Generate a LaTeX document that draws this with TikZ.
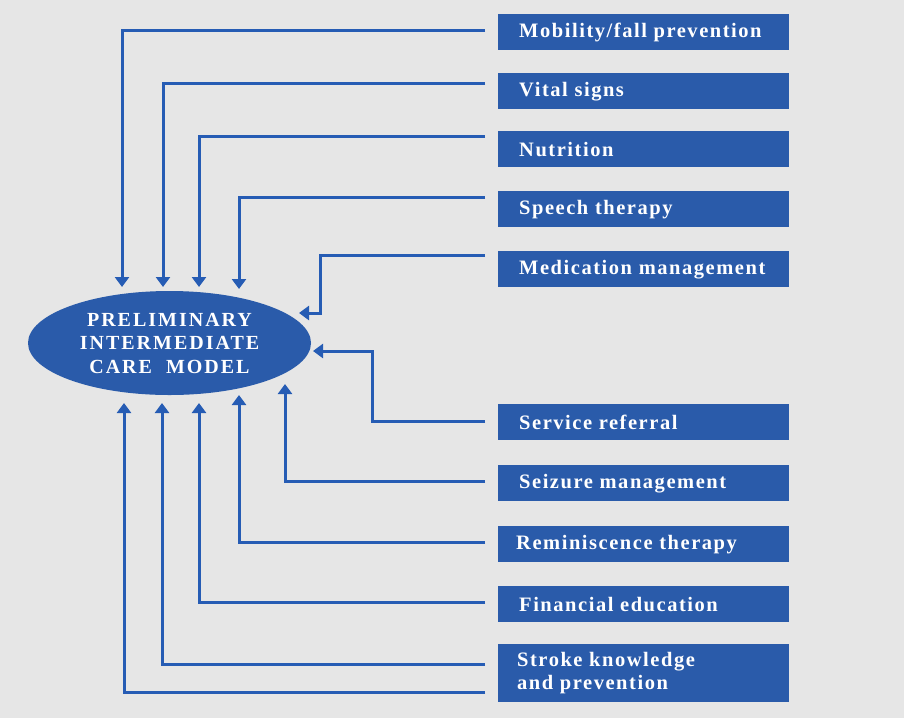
\documentclass[tikz,border=0pt]{standalone}
\usepackage{fontspec}
\setmainfont{Liberation Serif}
\newfontfamily\boxfont[LetterSpace=7.5]{Liberation Serif}
\newfontfamily\hubfont[LetterSpace=10]{Liberation Serif}
\usetikzlibrary{arrows.meta,calc,shapes.geometric}
\definecolor{bg}{RGB}{230,230,230}
\definecolor{bluebox}{RGB}{42,91,170}
\definecolor{lineblue}{RGB}{38,92,180}
\begin{document}
\begin{tikzpicture}[x=1pt,y=-1pt,
  box/.style={fill=bluebox, draw=none, minimum width=291pt, minimum height=36pt, anchor=north west, inner sep=0pt},
  lab/.style={anchor=west, text=white, inner sep=0pt, font=\boxfont\bfseries\fontsize{20.5}{23}\selectfont, align=left},
  conn/.style={draw=lineblue, line width=3pt, -{Triangle[width=14pt,length=10pt]}},
  hub/.style={ellipse, fill=bluebox, minimum width=283pt, minimum height=104pt, inner sep=0pt, text=white, align=center, font=\hubfont\bfseries\fontsize{20}{23.5}\selectfont}
]
\fill[bg] (0,0) rectangle (904,718);
\useasboundingbox (0,0) rectangle (904,718);

\node[hub] (hub) at (169.5,343) {PRELIMINARY\\INTERMEDIATE\\CARE\ \ MODEL};

% boxes
\node[box] (mob) at (498,14) {};
\node[box] (vit) at (498,73) {};
\node[box] (nut) at (498,131) {};
\node[box] (spe) at (498,191) {};
\node[box] (med) at (498,251) {};
\node[box] (ser) at (498,404) {};
\node[box] (sei) at (498,465) {};
\node[box] (rem) at (498,526) {};
\node[box] (fin) at (498,586) {};
\node[box, minimum height=58pt] (str) at (498,644) {};

% labels
\node[lab] (mobt) at ($(mob.west)+(21,0.5)$) {Mobility/fall prevention};
\node[lab] (vitt) at ($(vit.west)+(21,0.5)$) {Vital signs};
\node[lab] (nutt) at ($(nut.west)+(21,0.5)$) {Nutrition};
\node[lab] (spet) at ($(spe.west)+(21,0.5)$) {Speech therapy};
\node[lab] (medt) at ($(med.west)+(21,0.5)$) {Medication management};
\node[lab] (sert) at ($(ser.west)+(21,0.5)$) {Service referral};
\node[lab] (seit) at ($(sei.west)+(21,0.5)$) {Seizure management};
\node[lab] (remt) at ($(rem.west)+(18,0.5)$) {Reminiscence therapy};
\node[lab] (fint) at ($(fin.west)+(21,0.5)$) {Financial education};
\node[lab] (strt) at ($(str.west)+(19,0)$) {Stroke knowledge\\and prevention};

% connector start points (gap before the boxes)
\coordinate (s1) at ($(mob.north west)+(-13,16)$);
\coordinate (s2) at ($(vit.north west)+(-13,10)$);
\coordinate (s3) at ($(nut.north west)+(-13,5)$);
\coordinate (s4) at ($(spe.north west)+(-13,6)$);
\coordinate (s5) at ($(med.north west)+(-13,4)$);
\coordinate (s6) at ($(ser.north west)+(-13,17)$);
\coordinate (s7) at ($(sei.north west)+(-13,16)$);
\coordinate (s8) at ($(rem.north west)+(-13,16)$);
\coordinate (s9) at ($(fin.north west)+(-13,16)$);
\coordinate (s10) at ($(str.north west)+(-13,20)$);
\coordinate (s11) at ($(str.north west)+(-13,48)$);

% arrow tips near the hub
\coordinate (e1) at (122,287);
\coordinate (e2) at (163,287);
\coordinate (e3) at (199,287);
\coordinate (e4) at (239,289);
\coordinate (e5) at (299,313);
\coordinate (e6) at (313,351);
\coordinate (e7) at (285,384);
\coordinate (e8) at (239,395);
\coordinate (e9) at (199,403);
\coordinate (e10) at (162,403);
\coordinate (e11) at (124,403);

\draw[conn] (s1) -| (e1);
\draw[conn] (s2) -| (e2);
\draw[conn] (s3) -| (e3);
\draw[conn] (s4) -| (e4);
\draw[conn] (s5) -| (320,313) -- (e5);
\draw[conn] (s6) -| (372,351) -- (e6);
\draw[conn] (s7) -| (e7);
\draw[conn] (s8) -| (e8);
\draw[conn] (s9) -| (e9);
\draw[conn] (s10) -| (e10);
\draw[conn] (s11) -| (e11);
\end{tikzpicture}
\end{document}
